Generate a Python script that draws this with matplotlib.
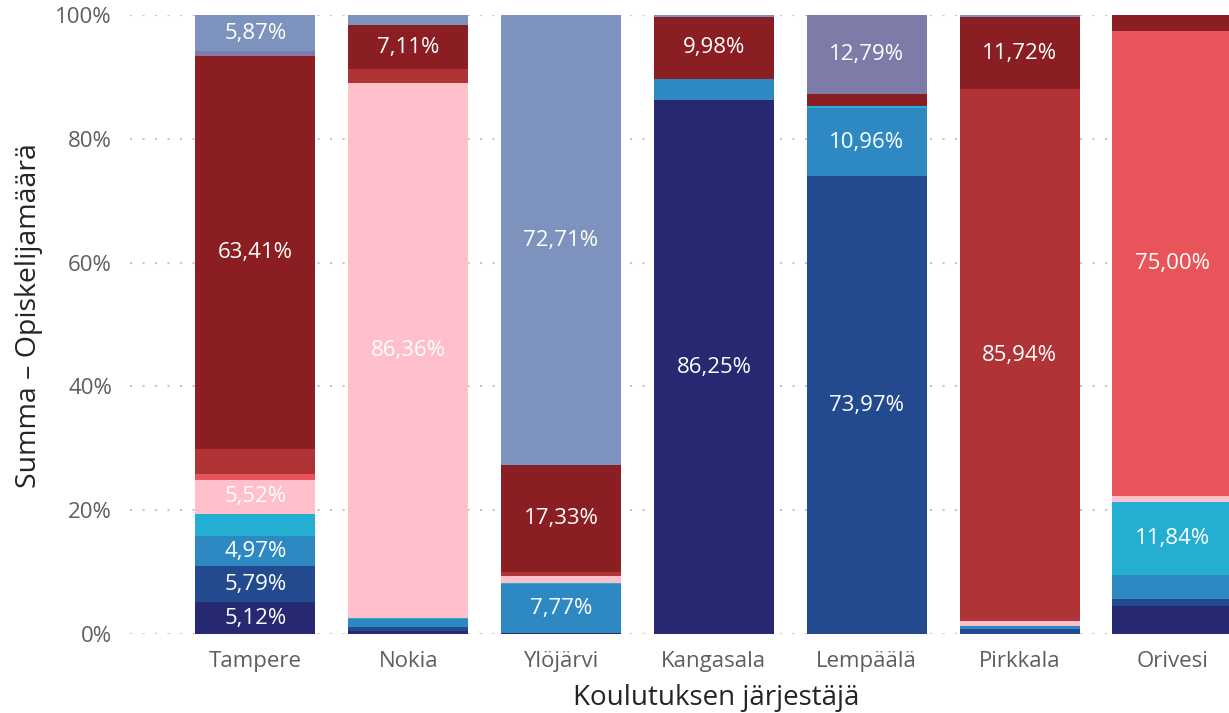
import matplotlib
matplotlib.use("Agg")
import matplotlib.pyplot as plt
import numpy as np

categories = ["Tampere", "Nokia", "Ylöjärvi", "Kangasala", "Lempäälä", "Pirkkala", "Orivesi"]

# series (bottom to top), percent of each organiser
s_navy      = [5.12, 0.50, 0.24, 86.25, 0.00, 0.00, 4.50]
s_blue      = [5.79, 0.60, 0.00, 0.00, 73.97, 0.80, 1.10]
s_midblue   = [4.97, 1.40, 7.77, 3.47, 10.96, 0.50, 3.90]
s_cyan      = [3.50, 0.10, 0.30, 0.00, 0.30, 0.00, 11.84]
s_pink      = [5.52, 86.36, 1.00, 0.00, 0.00, 0.75, 1.00]
s_lightred  = [0.90, 0.00, 0.00, 0.00, 0.00, 0.00, 75.00]
s_red       = [4.10, 2.30, 0.65, 0.00, 0.00, 85.94, 0.00]
s_darkred   = [63.41, 7.11, 17.33, 9.98, 1.98, 11.72, 2.66]
s_purple    = [0.82, 0.00, 0.00, 0.00, 12.79, 0.00, 0.00]
s_steel     = [5.87, 1.63, 72.71, 0.30, 0.00, 0.30, 0.00]

series = [s_navy, s_blue, s_midblue, s_cyan, s_pink, s_lightred, s_red, s_darkred, s_purple, s_steel]
colors = ["#262872", "#234A8E", "#2E89C3", "#24AED2", "#FFC0CB",
          "#E9535A", "#B03435", "#8B1E22", "#7E7BA8", "#7D93BD"]

yticks = [0, 20, 40, 60, 80, 100]
ytick_labels = ["0%", "20%", "40%", "60%", "80%", "100%"]

fig = plt.figure(figsize=(12.29, 7.13), dpi=100)
ax = fig.add_axes([130/1229, 1-634/713, 1-130/1229, (634-15)/713])

x = np.arange(len(categories))
bottom = np.zeros(len(categories))
for vals, col in zip(series, colors):
    vals = np.array(vals)
    ax.bar(x, vals, bottom=bottom, width=0.785, color=col, linewidth=0)
    for xi, v, b in zip(x, vals, bottom):
        if v >= 4.8:
            ax.text(xi, b + v/2, f"{v:.2f}%".replace(".", ","), ha="center", va="center",
                    color="white", fontsize=16, family="Open Sans")
    bottom += vals

ax.set_xlim(-0.82, 6.37)
ax.set_ylim(0, 100)
ax.set_yticks(yticks)
ax.set_yticklabels(ytick_labels)
ax.set_xticks(x)
ax.set_xticklabels(categories)
for lbl in ax.get_xticklabels() + ax.get_yticklabels():
    lbl.set_family("Open Sans")
    lbl.set_fontsize(16)
    lbl.set_color("#605E5C")
ax.tick_params(axis="both", length=0)
ax.tick_params(axis="y", pad=13)
ax.tick_params(axis="x", pad=12)

ax.set_axisbelow(True)
ax.yaxis.grid(True, linestyle=(0, (1, 5)), color="#C8C6C4", linewidth=1.5)
for sp in ax.spines.values():
    sp.set_visible(False)

ax.set_ylabel("Summa – Opiskelijamäärä", fontsize=20.5, color="#252423", family="Open Sans", labelpad=9)
ax.set_xlabel("Koulutuksen järjestäjä", fontsize=20, color="#252423", family="Open Sans", labelpad=9)
ax.yaxis.label.set_y(0.515)
ax.xaxis.label.set_x(0.533)

fig.savefig("out.png", dpi=100)
